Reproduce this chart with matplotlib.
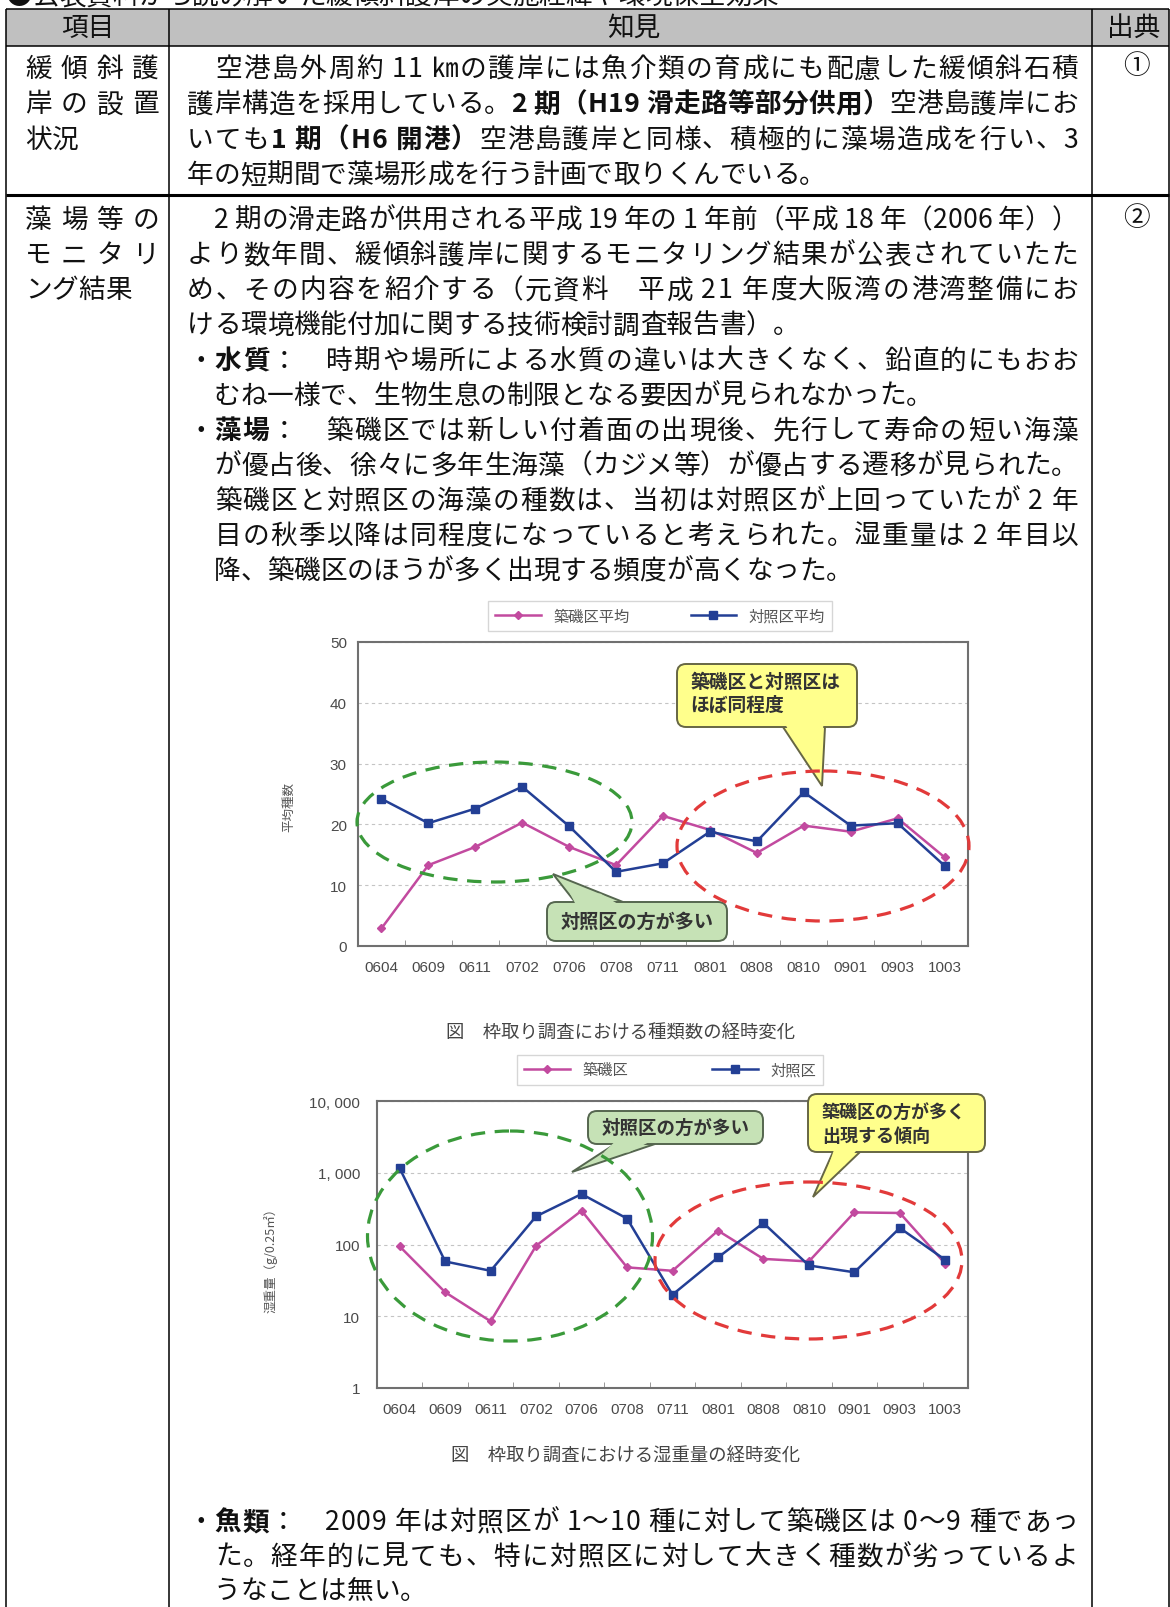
import matplotlib
matplotlib.use('Agg')
import matplotlib.pyplot as plt
import numpy as np
from matplotlib.font_manager import FontProperties
from matplotlib.patches import Ellipse, FancyBboxPatch, Polygon, Rectangle
from matplotlib.lines import Line2D
from matplotlib.ticker import NullLocator

# ---- data ----
months = ['0604', '0609', '0611', '0702', '0706', '0708', '0711',
          '0801', '0808', '0810', '0901', '0903', '1003']
sp_tsukiiso = [2.9, 13.3, 16.3, 20.3, 16.3, 13.3, 21.4, 19.1, 15.3, 19.8, 18.8, 21.0, 14.6]
sp_taisho = [24.2, 20.2, 22.6, 26.2, 19.7, 12.2, 13.6, 18.8, 17.2, 25.3, 19.8, 20.2, 13.2]
wt_tsukiiso = [94, 21.6, 8.5, 96, 296, 48, 43, 156, 63, 58, 280, 275, 54]
wt_taisho = [1150, 58, 43, 247, 505, 230, 20, 66, 199, 51, 41, 170, 61]
sp_ticks = [0, 10, 20, 30, 40, 50]
wt_ticks = [1, 10, 100, 1000, 10000]
wt_ticklabels = ['1', '10', '100', '1, 000', '10, 000']

# ---- page text ( *...* = bold ) ----
heading = '●公表資料から読み解いた緩傾斜護岸の実施経緯や環境保全効果'
header = ['項目', '知見', '出典']
row1_item = ['緩傾斜護', '岸の設置', '状況']
row2_item = ['藻場等の', 'モニタリ', 'ング結果']
row1_text = [
    '　空港島外周約 11 ㎞の護岸には魚介類の育成にも配慮した緩傾斜石積',
    '護岸構造を採用している。*2 期（H19 滑走路等部分供用）*空港島護岸にお',
    'いても*1 期（H6 開港）*空港島護岸と同様、積極的に藻場造成を行い、3',
    '年の短期間で藻場形成を行う計画で取りくんでいる。',
]
row1_just = [True, True, True, False]
row2_text = [
    '　2 期の滑走路が供用される平成 19 年の 1 年前（平成 18 年（2006 年））',
    'より数年間、緩傾斜護岸に関するモニタリング結果が公表されていたた',
    'め、その内容を紹介する（元資料　平成 21 年度大阪湾の港湾整備にお',
    'ける環境機能付加に関する技術検討調査報告書）。',
    '・*水質*：　時期や場所による水質の違いは大きくなく、鉛直的にもおお',
    '　むね一様で、生物生息の制限となる要因が見られなかった。',
    '・*藻場*：　築磯区では新しい付着面の出現後、先行して寿命の短い海藻',
    '　が優占後、徐々に多年生海藻（カジメ等）が優占する遷移が見られた。',
    '　築磯区と対照区の海藻の種数は、当初は対照区が上回っていたが 2 年',
    '　目の秋季以降は同程度になっていると考えられた。湿重量は 2 年目以',
    '　降、築磯区のほうが多く出現する頻度が高くなった。',
]
row2_just = [True, True, True, False, True, False, True, True, True, True, False]
fish_text = [
    '・*魚類*：　2009 年は対照区が 1～10 種に対して築磯区は 0～9 種であっ',
    '　た。経年的に見ても、特に対照区に対して大きく種数が劣っているよ',
    '　うなことは無い。',
]
fish_just = [True, True, False]

W, H = 1170, 1608
JP = 'Noto Sans CJK JP'
FS = 19.2                 # body text, points
FS_PX = FS * 100 / 72.0
PINK = '#c24a9f'
BLUE = '#233f95'
GRAY_TXT = '#4a4a4a'

fig = plt.figure(figsize=(W / 100, H / 100), dpi=100)
pg = fig.add_axes([0, 0, 1, 1])
pg.set_xlim(0, W)
pg.set_ylim(H, 0)
pg.axis('off')
renderer = fig.canvas.get_renderer()

_wcache = {}


def char_w(c, bold):
    key = (c, bold)
    if key not in _wcache:
        fp = FontProperties(family=JP, size=FS, weight='bold' if bold else 'normal')
        w2 = renderer.get_text_width_height_descent('||', fp, ismath=False)[0]
        w3 = renderer.get_text_width_height_descent('|' + c + '|', fp, ismath=False)[0]
        _wcache[key] = w3 - w2
    return _wcache[key]


def put_line(s, x0, y, x1=None):
    parts = s.split('*')
    chars = [(c, i % 2 == 1) for i, p in enumerate(parts) for c in p]
    ws = [char_w(c, b) for c, b in chars]
    gap = 0.0
    if x1 is not None and len(chars) > 1:
        gap = (x1 - x0 - sum(ws)) / (len(chars) - 1)
    x = x0
    for (c, b), w in zip(chars, ws):
        if c not in ' 　':
            pg.text(x, y + 0.38 * FS_PX, c, fontfamily=JP, fontsize=FS,
                    fontweight='bold' if b else 'normal', ha='left',
                    va='baseline', color='#111111')
        x += w + gap


def hline(y, x0, x1, lw=1.1):
    pg.plot([x0, x1], [y, y], color='black', lw=lw, solid_capstyle='butt')


def vline(x, y0, y1, lw=1.1):
    pg.plot([x, x], [y0, y1], color='black', lw=lw, solid_capstyle='butt')


# ---- table frame ----
TL, C1, C2, TR = 6, 169, 1092, 1169
T0, T1, T2 = 10, 47, 196
pg.add_patch(Rectangle((TL, T0), TR - TL, T1 - T0, facecolor='#c0c0c0',
                       edgecolor='none', zorder=0))
hline(T0, TL, TR)
hline(T1, TL, TR)
hline(T2, TL, TR, lw=2.2)
for xv in (TL, C1, C2, TR):
    vline(xv, T0, H)

put_line(heading, 6, -6)
pg.text((TL + C1) / 2, 28.5, header[0], fontfamily=JP, fontsize=FS,
        ha='center', va='center', color='#111111')
pg.text(634, 28.5, header[1], fontfamily=JP, fontsize=FS,
        ha='center', va='center', color='#111111')
pg.text(1134, 28.5, header[2], fontfamily=JP, fontsize=FS,
        ha='center', va='center', color='#111111')

XL, XR = 187, 1078
step1 = 35.3
for i, s in enumerate(row1_text):
    put_line(s, XL, 67 + i * step1, XR if row1_just[i] else None)
for i, s in enumerate(row1_item):
    put_line(s, 25, 67 + i * step1, 159 if i < 2 else None)
step2 = 35.1
for i, s in enumerate(row2_text):
    put_line(s, XL, 218 + i * step2, XR if row2_just[i] else None)
for i, s in enumerate(row2_item):
    put_line(s, 25, 218 + i * step2, 159 if i < 2 else None)
for i, s in enumerate(fish_text):
    put_line(s, XL, 1520 + i * 34.5, XR if fish_just[i] else None)
pg.text(1136, 67, '①', fontfamily=JP, fontsize=FS, ha='center', va='center', color='#111111')
pg.text(1136, 218, '②', fontfamily=JP, fontsize=FS, ha='center', va='center', color='#111111')


# ---- charts ----
def px_axes(l, t, r, b):
    return fig.add_axes([l / W, 1 - b / H, (r - l) / W, (b - t) / H])


def base_chart(ax):
    x = np.arange(len(months))
    ax.set_xlim(-0.5, len(months) - 0.5)
    ax.set_xticks(x)
    ax.set_xticklabels(months, fontfamily='Liberation Sans', fontsize=11, color=GRAY_TXT)
    ax.set_xticks(np.arange(0.5, len(months) - 1, 1), minor=True)
    ax.tick_params(axis='x', which='major', length=0, pad=10)
    ax.tick_params(axis='x', which='minor', length=4, direction='in', color='#888888')
    for sp in ax.spines.values():
        sp.set_color('#707070')
        sp.set_linewidth(1.5)
    ax.yaxis.grid(True, linestyle=(0, (3, 3)), color='#c4c4c4', lw=0.8)
    ax.set_axisbelow(True)
    return x


def legend(ax, labels, cx, cy, colsp):
    hs = [Line2D([], [], color=PINK, marker='D', ms=4.5, lw=1.8),
          Line2D([], [], color=BLUE, marker='s', ms=5.5, lw=1.8)]
    lg = ax.legend(hs, labels, ncol=2, loc='center', bbox_to_anchor=(cx / W, 1 - cy / H),
                   bbox_transform=fig.transFigure, frameon=True, fancybox=False,
                   edgecolor='#cccccc', handlelength=3.0, columnspacing=colsp,
                   borderpad=0.45, prop=FontProperties(family=JP, size=11))
    lg.get_frame().set_linewidth(1.0)
    for t in lg.get_texts():
        t.set_color('#555555')


# chart 1: species count
ax1 = px_axes(358, 643, 968, 947)
x = base_chart(ax1)
ax1.plot(x, sp_tsukiiso, color=PINK, marker='D', ms=4.5, lw=1.8, zorder=3)
ax1.plot(x, sp_taisho, color=BLUE, marker='s', ms=5.5, lw=1.8, zorder=4)
ax1.set_ylim(0, 50)
ax1.set_yticks(sp_ticks)
ax1.set_yticklabels([str(v) for v in sp_ticks], fontfamily='Liberation Sans',
                    fontsize=11, color=GRAY_TXT)
ax1.tick_params(axis='y', length=0, pad=8)
ax1.set_ylabel('平均種数', fontfamily=JP, fontsize=9, color='#555555')
ax1.yaxis.set_label_coords(-0.103, 0.46)
legend(ax1, ['築磯区平均', '対照区平均'], 660, 617, 4.0)

# chart 2: wet weight
ax2 = px_axes(377, 1102, 968, 1389)
x = base_chart(ax2)
ax2.plot(x, wt_tsukiiso, color=PINK, marker='D', ms=4.5, lw=1.8, zorder=3)
ax2.plot(x, wt_taisho, color=BLUE, marker='s', ms=5.5, lw=1.8, zorder=4)
ax2.set_yscale('log')
ax2.set_ylim(1, 10000)
ax2.set_yticks(wt_ticks)
ax2.set_yticklabels(wt_ticklabels, fontfamily='Liberation Sans', fontsize=11, color=GRAY_TXT)
ax2.yaxis.set_minor_locator(NullLocator())
ax2.tick_params(axis='y', which='both', length=0, pad=12)
ax2.set_ylabel('湿重量（g/0.25㎡）', fontfamily=JP, fontsize=9, color='#555555')
ax2.yaxis.set_label_coords(-0.1675, 0.46)
legend(ax2, ['築磯区', '対照区'], 670, 1071, 5.5)

pg.text(621, 1033, '図　枠取り調査における種類数の経時変化', fontfamily=JP,
        fontsize=13.2, ha='center', va='center', color='#444444')
pg.text(626, 1457, '図　枠取り調査における湿重量の経時変化', fontfamily=JP,
        fontsize=13.2, ha='center', va='center', color='#444444')

# ---- callouts and dashed ellipses (overlay, pixel coordinates) ----
ov = fig.add_axes([0, 0, 1, 1])
ov.set_xlim(0, W)
ov.set_ylim(H, 0)
ov.axis('off')
ov.patch.set_alpha(0)

YEL, YEL_EC = '#ffff8c', '#666644'
GRN, GRN_EC = '#c6e2b6', '#55664f'


def callout(box, xa, xb, side, tip, fc, ec, lines, tx, ty, ha, fs=13.5):
    l, t, r, b = box
    sy = b if side == 'bottom' else t
    inward = -1 if side == 'bottom' else 1
    ov.add_patch(Polygon([(xa, sy), tip, (xb, sy)], closed=True, facecolor=fc,
                         edgecolor=ec, lw=1.4, zorder=2))
    ov.add_patch(FancyBboxPatch((l, t), r - l, b - t,
                                boxstyle='round,pad=0,rounding_size=9',
                                facecolor=fc, edgecolor=ec, lw=1.4, zorder=3))
    ta = np.array([xa, sy]) + 0.3 * (np.array(tip) - np.array([xa, sy]))
    tb = np.array([xb, sy]) + 0.3 * (np.array(tip) - np.array([xb, sy]))
    ov.add_patch(Polygon([(xa + 1.6, sy + inward * 4), (ta[0] + 1.6, ta[1]),
                          (tb[0] - 1.6, tb[1]), (xb - 1.6, sy + inward * 4)],
                         closed=True, facecolor=fc, edgecolor='none', zorder=4))
    ov.text(tx, ty, lines, fontfamily=JP, fontsize=fs, fontweight='bold',
            ha=ha, va='center', color='#333333', linespacing=1.25, zorder=5)


callout((677, 665, 857, 728), 783, 825, 'bottom', (822, 787), YEL, YEL_EC,
        '築磯区と対照区は\nほぼ同程度', 690, 694, 'left', fs=13.5)
callout((547, 903, 727, 942), 575, 623, 'top', (553, 875), GRN, GRN_EC,
        '対照区の方が多い', 637, 922, 'center', fs=13.8)
callout((588, 1112, 763, 1145), 615, 655, 'bottom', (572, 1173), GRN, GRN_EC,
        '対照区の方が多い', 676, 1128, 'center', fs=13.3)
callout((808, 1095, 985, 1153), 833, 860, 'bottom', (813, 1198), YEL, YEL_EC,
        '築磯区の方が多く\n出現する傾向', 822, 1125, 'left', fs=13.0)

DASH = (0, (4.5, 3.0))
for (cx, cy, w, h, col) in [(494.5, 823, 275, 120, '#3a9a3a'),
                            (823, 847, 292, 150, '#e23a3a'),
                            (510, 1237, 285, 210, '#3a9a3a'),
                            (808.5, 1261.5, 307, 157, '#e23a3a')]:
    ov.add_patch(Ellipse((cx, cy), w, h, facecolor='none', edgecolor=col,
                         lw=2.3, linestyle=DASH, zorder=6))

fig.savefig('out.png', dpi=100)
